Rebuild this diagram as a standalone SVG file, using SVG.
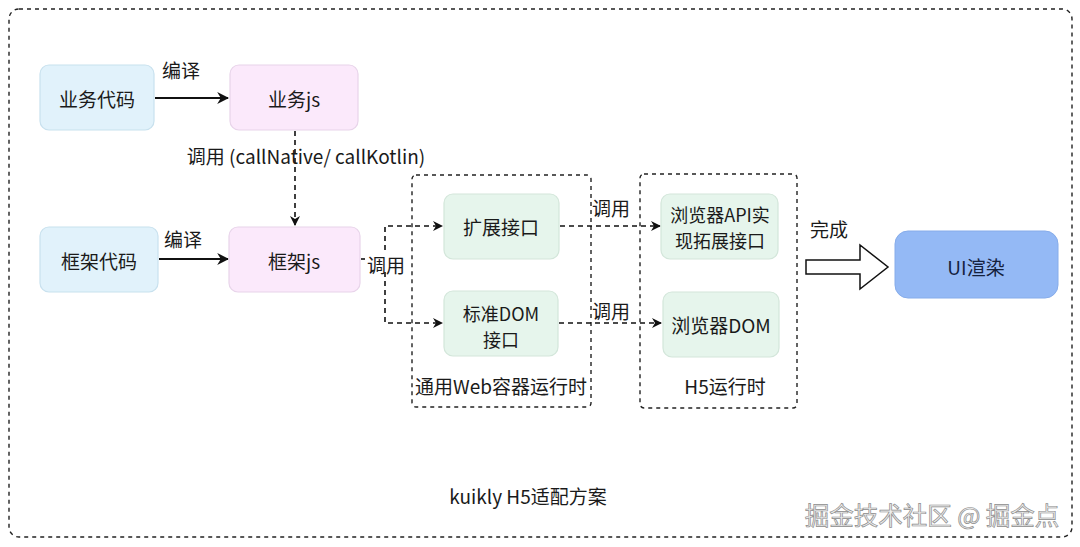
<svg xmlns="http://www.w3.org/2000/svg" width="1080" height="547" viewBox="0 0 1080 547">
<style>
text{font-family:"Noto Sans CJK SC","Noto Sans",sans-serif;fill:#1a1a1a;font-size:19px;}
.n{text-anchor:middle;dominant-baseline:central;}
.two{font-size:18px;}
.blue{fill:#e1f2fb;stroke:#c8e1ee;stroke-width:1.2;}
.pink{fill:#fbe9fb;stroke:#e8d4ea;stroke-width:1.2;}
.green{fill:#e6f5ec;stroke:#d3e6da;stroke-width:1.2;}
.cont{fill:none;stroke:#222;stroke-width:1.4;stroke-dasharray:4 4;}
.solid{fill:none;stroke:#111;stroke-width:2;}
.dash{fill:none;stroke:#111;stroke-width:1.6;stroke-dasharray:5 4;}
.wm{font-size:24.5px;fill:#eeeeee;stroke:#8c8c8c;stroke-width:0.7;}
</style>
<defs>
<marker id="ah" viewBox="0 0 10 10" refX="9" refY="5" markerWidth="10" markerHeight="10" markerUnits="userSpaceOnUse" orient="auto">
<path d="M0,0 L10,5 L0,10 L3,5 z" fill="#111"/>
</marker>
<marker id="ah2" viewBox="0 0 10 10" refX="9" refY="5" markerWidth="12" markerHeight="12" markerUnits="userSpaceOnUse" orient="auto">
<path d="M0,0 L10,5 L0,10 L3,5 z" fill="#111"/>
</marker>
</defs>
<rect width="1080" height="547" fill="#ffffff"/>
<rect x="9" y="9" width="1063" height="528" rx="10" class="cont"/>

<g id="container-web">
<rect x="412" y="175" width="179" height="232" rx="4" class="cont"/>
<text x="501" y="385" class="n">通用Web容器运行时</text>
</g>
<g id="container-h5">
<rect x="640" y="174" width="157" height="234" rx="4" class="cont"/>
<text x="725" y="385" class="n">H5运行时</text>
</g>

<g id="connectors">
<path d="M155,98 H228" class="solid" marker-end="url(#ah2)"/>
<text x="181" y="69" class="n">编译</text>
<path d="M159,259 H228" class="solid" marker-end="url(#ah2)"/>
<text x="183" y="238" class="n">编译</text>
<path d="M295,131 V225" class="dash" marker-end="url(#ah)"/>
<text x="306" y="155" class="n">调用 (callNative/ callKotlin)</text>
<path d="M361,259 H365" class="dash"/>
<path d="M385,250 V226 H442" class="dash" marker-end="url(#ah)"/>
<path d="M385,272 V323 H442" class="dash" marker-end="url(#ah)"/>
<text x="386" y="264" class="n">调用</text>
<path d="M560,226 H660" class="dash" marker-end="url(#ah)"/>
<text x="611" y="207" class="n">调用</text>
<path d="M559,323 H661" class="dash" marker-end="url(#ah)"/>
<text x="611" y="310" class="n">调用</text>
<text x="829" y="228" class="n">完成</text>
<path d="M806,260 H860 V245 L888,267 L860,289 V274 H806 Z" fill="#fff" stroke="#111" stroke-width="1.5"/>
</g>

<g id="n-biz-code"><rect x="40" y="65" width="114" height="65" rx="9" class="blue"/><text x="97" y="98" class="n">业务代码</text></g>
<g id="n-biz-js"><rect x="230" y="65" width="128" height="65" rx="9" class="pink"/><text x="294" y="98" class="n">业务js</text></g>
<g id="n-fw-code"><rect x="40" y="227" width="118" height="65" rx="9" class="blue"/><text x="99" y="260" class="n">框架代码</text></g>
<g id="n-fw-js"><rect x="229" y="227" width="131" height="65" rx="9" class="pink"/><text x="294" y="260" class="n">框架js</text></g>
<g id="n-ext"><rect x="444" y="194" width="115" height="65" rx="9" class="green"/><text x="501" y="226" class="n">扩展接口</text></g>
<g id="n-dom"><rect x="444" y="291" width="114" height="65" rx="9" class="green"/><text x="501" y="313" class="n two">标准DOM</text><text x="501" y="339" class="n two">接口</text></g>
<g id="n-browser-api"><rect x="661" y="194" width="117" height="65" rx="9" class="green"/><text x="720" y="214" class="n two">浏览器API实</text><text x="720" y="240" class="n two">现拓展接口</text></g>
<g id="n-browser-dom"><rect x="663" y="292" width="116" height="65" rx="9" class="green"/><text x="721" y="324" class="n">浏览器DOM</text></g>
<g id="n-ui"><rect x="895" y="231" width="163" height="67" rx="13" fill="#94b9f5" stroke="#86acea" stroke-width="1"/><text x="976" y="266" class="n" style="fill:#14213d">UI渲染</text></g>

<text x="528" y="495" class="n">kuikly H5适配方案</text>
<text x="932" y="514" class="n wm">掘金技术社区 @ 掘金点</text>
</svg>
